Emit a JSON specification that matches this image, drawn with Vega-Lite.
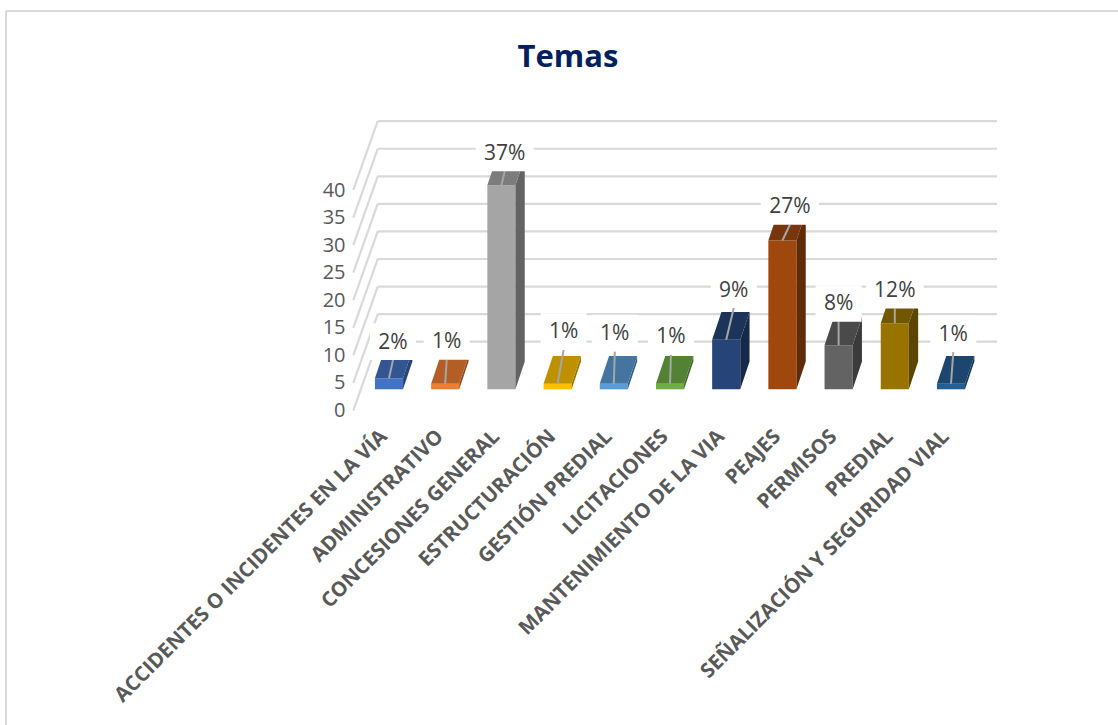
{
  "$schema": "https://vega.github.io/schema/vega-lite/v6.json",
  "width": 1112,
  "height": 714,
  "padding": {"left": 6, "top": 11, "right": 0, "bottom": 0},
  "autosize": {"type": "none"},
  "background": "white",
  "config": {"view": {"stroke": null}},
  "title": {"text": "Temas", "anchor": "middle", "frame": "group", "offset": -64, "dx": 6, "font": "Open Sans", "fontWeight": 700, "fontSize": 31, "color": "#002060"},
  "data": {"values": [
    {"tema": "ACCIDENTES O INCIDENTES EN LA VÍA", "valor": 2},
    {"tema": "ADMINISTRATIVO", "valor": 1},
    {"tema": "CONCESIONES GENERAL", "valor": 37},
    {"tema": "ESTRUCTURACIÓN", "valor": 1},
    {"tema": "GESTIÓN PREDIAL", "valor": 1},
    {"tema": "LICITACIONES", "valor": 1},
    {"tema": "MANTENIMIENTO DE LA VIA", "valor": 9},
    {"tema": "PEAJES", "valor": 27},
    {"tema": "PERMISOS", "valor": 8},
    {"tema": "PREDIAL", "valor": 12},
    {"tema": "SEÑALIZACIÓN Y SEGURIDAD VIAL", "valor": 1}
  ]},
  "transform": [
    {"window": [{"op": "row_number", "as": "n"}]},
    {"calculate": "383 + (datum.n - 1) * 56.2", "as": "c"},
    {"calculate": "3.846", "as": "base"},
    {"calculate": "datum.base + datum.valor", "as": "tope"},
    {"calculate": "[36.6,42.3,32.3,52.3,50.7,47.3,50,34,41.7,33,50][datum.n - 1] / 5.5125", "as": "alza"},
    {"calculate": "[4,1.5,3.3,6,1,1,7.6,7.5,0,0,2.3][datum.n - 1]", "as": "desvio"},
    {"calculate": "datum.c + datum.desvio", "as": "xEtiqueta"},
    {"calculate": "datum.tope + datum.alza", "as": "yEtiqueta"},
    {"calculate": "datum.valor + '%'", "as": "etiqueta"},
    {"calculate": "datum.valor < 10 ? 23 : 29", "as": "mitad"},
    {"calculate": "datum.xEtiqueta - datum.mitad", "as": "cajaX1"},
    {"calculate": "datum.xEtiqueta + datum.mitad", "as": "cajaX2"},
    {"calculate": "datum.yEtiqueta - 3.32", "as": "cajaY1"},
    {"calculate": "datum.yEtiqueta + 3.32", "as": "cajaY2"}
  ],
  "layer": [
    {
      "data": {"values": [{"marco": "borde"}]},
      "mark": {"type": "rule", "color": "#D9D9D9", "strokeWidth": 2},
      "encoding": {
        "x": {"datum": 0, "type": "quantitative", "scale": {"domain": [0, 1112], "nice": false, "zero": false}, "axis": null},
        "y": {"datum": 72.47, "type": "quantitative", "scale": {"domain": [0, 40], "range": [399.5, 179], "nice": false}, "axis": null},
        "y2": {"datum": -60}
      }
    },
    {
      "data": {"values": [{"marco": "borde"}]},
      "mark": {"type": "rule", "color": "#D9D9D9", "strokeWidth": 2},
      "encoding": {
        "x": {"datum": 0, "type": "quantitative", "scale": {"domain": [0, 1112], "nice": false, "zero": false}, "axis": null},
        "x2": {"datum": 1112},
        "y": {"datum": 72.47, "type": "quantitative", "axis": null}
      }
    },
    {
      "data": {"values": [{"marca": 0}, {"marca": 5}, {"marca": 10}, {"marca": 15}, {"marca": 20}, {"marca": 25}, {"marca": 30}, {"marca": 35}, {"marca": 40}]},
      "transform": [{"calculate": "datum.marca + 12.48", "as": "fondo"}],
      "mark": {"type": "rule", "color": "#D9D9D9", "strokeWidth": 2.2},
      "encoding": {
        "x": {"datum": 347.3, "type": "quantitative", "scale": {"domain": [0, 1112], "nice": false, "zero": false}, "axis": null},
        "x2": {"datum": 371.7},
        "y": {"field": "marca", "type": "quantitative", "axis": {"title": null, "values": [0, 5, 10, 15, 20, 25, 30, 35, 40], "ticks": false, "domain": false, "grid": false, "offset": -339, "labelPadding": 0, "labelFont": "Open Sans", "labelFontSize": 20, "labelColor": "#595959"}},
        "y2": {"field": "fondo"}
      }
    },
    {
      "data": {"values": [{"marca": 0}, {"marca": 5}, {"marca": 10}, {"marca": 15}, {"marca": 20}, {"marca": 25}, {"marca": 30}, {"marca": 35}, {"marca": 40}]},
      "transform": [{"calculate": "datum.marca + 12.48", "as": "fondo"}],
      "mark": {"type": "rule", "color": "#D9D9D9", "strokeWidth": 2.2},
      "encoding": {
        "x": {"datum": 371.7, "type": "quantitative", "scale": {"domain": [0, 1112], "nice": false, "zero": false}, "axis": null},
        "x2": {"datum": 991},
        "y": {"field": "fondo", "type": "quantitative", "axis": null}
      }
    },
    {
      "mark": {"type": "bar"},
      "encoding": {
        "x": {"field": "tema", "type": "nominal", "sort": null, "scale": {"type": "band", "paddingInner": 0.5, "paddingOuter": 0.25, "range": [354.9, 973.1]}, "axis": {"title": null, "labelAngle": -45, "labelAlign": "right", "labelBaseline": "middle", "ticks": false, "domain": false, "offset": -296, "labelPadding": 4, "labelOffset": -5, "labelFont": "Open Sans", "labelFontWeight": 700, "labelFontSize": 20.4, "labelColor": "#595959", "labelLimit": 600, "labelOverlap": false}},
        "y": {"field": "tope", "type": "quantitative", "axis": null},
        "y2": {"field": "base"},
        "color": {"field": "tema", "type": "nominal", "legend": null, "scale": {"range": ["#4472C4", "#ED7D31", "#A5A5A5", "#FFC000", "#5B9BD5", "#70AD47", "#264478", "#9E480E", "#636363", "#997300", "#255E91"]}}
      }
    },
    {
      "transform": [
        {"calculate": "[0, 1]", "as": "e"},
        {"flatten": ["e"]},
        {"calculate": "datum.c + 14.05 + datum.e * 9.3", "as": "xc"},
        {"calculate": "datum.tope + datum.e * 5.03", "as": "ya"},
        {"calculate": "datum.base + datum.e * 5.03", "as": "yb"}
      ],
      "mark": {"type": "area", "orient": "vertical"},
      "encoding": {
        "x": {"field": "xc", "type": "quantitative", "scale": {"domain": [0, 1112], "nice": false, "zero": false}, "axis": null},
        "y": {"field": "ya", "type": "quantitative", "axis": null, "stack": null},
        "y2": {"field": "yb"},
        "color": {"field": "tema", "type": "nominal", "legend": null, "scale": {"range": ["#294476", "#8E4B1D", "#636363", "#997300", "#375D80", "#43682B", "#172948", "#5F2B08", "#3B3B3B", "#5C4500", "#163857"]}}
      }
    },
    {
      "transform": [
        {"calculate": "[0, 1]", "as": "e"},
        {"flatten": ["e"]},
        {"calculate": "datum.c - 14.05 + datum.e * 9.3", "as": "xa"},
        {"calculate": "datum.c + 14.05 + datum.e * 9.3", "as": "xb"},
        {"calculate": "datum.tope + datum.e * 5.03", "as": "ya"}
      ],
      "mark": {"type": "area", "orient": "horizontal"},
      "encoding": {
        "x": {"field": "xa", "type": "quantitative", "scale": {"domain": [0, 1112], "nice": false, "zero": false}, "axis": null, "stack": null},
        "x2": {"field": "xb"},
        "y": {"field": "ya", "type": "quantitative", "axis": null},
        "color": {"field": "tema", "type": "nominal", "legend": null, "scale": {"range": ["#335593", "#B25E25", "#7C7C7C", "#BF9000", "#4474A0", "#548235", "#1C335A", "#77360B", "#4A4A4A", "#735600", "#1C466D"]}}
      }
    },
    {
      "mark": {"type": "rule", "color": "#A6A6A6", "strokeWidth": 2},
      "encoding": {
        "x": {"field": "c", "type": "quantitative", "scale": {"domain": [0, 1112], "nice": false, "zero": false}, "axis": null},
        "x2": {"field": "xEtiqueta"},
        "y": {"field": "tope", "type": "quantitative", "axis": null},
        "y2": {"field": "cajaY1"}
      }
    },
    {
      "mark": {"type": "rect", "color": "white"},
      "encoding": {
        "x": {"field": "cajaX1", "type": "quantitative", "scale": {"domain": [0, 1112], "nice": false, "zero": false}, "axis": null},
        "x2": {"field": "cajaX2"},
        "y": {"field": "cajaY1", "type": "quantitative", "axis": null},
        "y2": {"field": "cajaY2"}
      }
    },
    {
      "mark": {"type": "text", "font": "Open Sans", "fontSize": 21, "dy": 1, "color": "#404040", "baseline": "middle", "align": "center"},
      "encoding": {
        "x": {"field": "xEtiqueta", "type": "quantitative", "scale": {"domain": [0, 1112], "nice": false, "zero": false}, "axis": null},
        "y": {"field": "yEtiqueta", "type": "quantitative", "axis": null},
        "text": {"field": "etiqueta", "type": "nominal"}
      }
    }
  ],
  "resolve": {"scale": {"x": "independent", "color": "independent"}, "axis": {"x": "independent", "y": "independent"}}
}
